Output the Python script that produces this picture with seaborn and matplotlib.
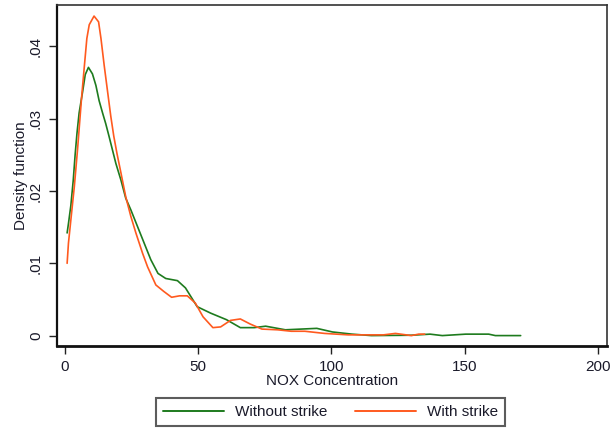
import numpy as np
import pandas as pd
import matplotlib
matplotlib.use("Agg")
import matplotlib.pyplot as plt
import seaborn as sns
from matplotlib.lines import Line2D

# Without strike density curve
x_without = [0.8, 1.3, 2.2, 3.1, 3.8, 4.5, 5.3, 6.6, 7.6, 8.8, 10.3, 11.6, 12.8, 14.1,
             15.3, 16.5, 17.8, 19.1, 21.0, 22.8, 24.7, 27.2, 29.7, 32.2, 34.9, 37.8,
             42.2, 45.2, 49.6, 54.7, 60.6, 65.8, 71.0, 75.3, 82.7, 88.6, 94.5, 100.4,
             107.7, 115.0, 130.0, 137.0, 141.6, 150.4, 159.0, 161.5, 171.0]
y_without = [0.0142, 0.0155, 0.0180, 0.0215, 0.0250, 0.0280, 0.0308, 0.0337, 0.0361,
             0.0371, 0.0362, 0.0346, 0.0325, 0.0308, 0.0293, 0.0276, 0.0257, 0.0238,
             0.0215, 0.0190, 0.0174, 0.0151, 0.0128, 0.0105, 0.0086, 0.0079, 0.0076,
             0.0066, 0.0040, 0.0031, 0.0022, 0.0011, 0.0011, 0.0013, 0.0008, 0.0009,
             0.0010, 0.0005, 0.0002, 0.0000, 0.00005, 0.0002, 0.0000, 0.0002, 0.0002,
             0.0000, 0.0000]

# With strike density curve
x_with = [0.8, 1.3, 2.2, 3.5, 4.7, 6.2, 7.2, 8.2, 9.1, 10.9, 12.6, 13.5, 14.7, 16.0,
          17.2, 18.3, 19.5, 21.0, 22.8, 24.7, 26.6, 29.1, 31.0, 34.1, 37.1, 40.0, 43.0,
          45.9, 48.9, 51.8, 55.5, 58.4, 62.1, 65.8, 69.5, 73.9, 79.8, 84.9, 90.0, 97.4,
          106.3, 119.5, 124.0, 130.0, 132.7, 135.0]
y_with = [0.0100, 0.0128, 0.0160, 0.0206, 0.0257, 0.0328, 0.0370, 0.0411, 0.0430,
          0.0442, 0.0434, 0.0411, 0.0374, 0.0337, 0.0303, 0.0276, 0.0252, 0.0225,
          0.0192, 0.0165, 0.0142, 0.0114, 0.0095, 0.0070, 0.0061, 0.0053, 0.0055,
          0.0055, 0.0045, 0.0026, 0.0011, 0.0012, 0.0021, 0.0023, 0.0016, 0.0009,
          0.0008, 0.0006, 0.0006, 0.0003, 0.0001, 0.0001, 0.0003, 0.0000, 0.0002, 0.0002]

series_names = ["Without strike", "With strike"]
x_ticks = [0, 50, 100, 150, 200]
y_ticks = [0, 0.01, 0.02, 0.03, 0.04]
y_tick_labels = ["0", ".01", ".02", ".03", ".04"]

df = pd.concat([
    pd.DataFrame({"x": x_without, "y": y_without, "series": series_names[0]}),
    pd.DataFrame({"x": x_with, "y": y_with, "series": series_names[1]}),
], ignore_index=True)

sns.set_theme(style="white")
plt.rcParams["font.family"] = ["Liberation Sans", "DejaVu Sans"]
text_color = "#1a1a2a"

fig = plt.figure(figsize=(6.13, 4.32), dpi=100)
ax = fig.add_axes([57 / 613, 1 - 346 / 432, (607 - 57) / 613, (346 - 4.7) / 432])

palette = {"Without strike": "#1e7b1e", "With strike": "#ff5a1f"}
sns.lineplot(data=df, x="x", y="y", hue="series", palette=palette, ax=ax,
             linewidth=1.2, sort=True, estimator=None, legend=False)

ax.set_xlim(-3.0, 203.4)
ax.set_ylim(-0.00144, 0.04577)
ax.set_xticks(x_ticks)
ax.set_xticklabels([str(t) for t in x_ticks])
ax.set_yticks(y_ticks)
ax.set_yticklabels(y_tick_labels, rotation=90, va="center")
ax.tick_params(axis="both", which="major", direction="out", length=6, width=1.0,
               color="#222222", labelsize=11, labelcolor=text_color, left=True, bottom=True)
ax.tick_params(axis="x", pad=4)
ax.tick_params(axis="y", pad=4)

for side, sp in ax.spines.items():
    sp.set_visible(True)
    sp.set_color("#333333")
    sp.set_linewidth(1.2)
ax.spines["bottom"].set_linewidth(2.0)
ax.spines["bottom"].set_color("#111111")
ax.spines["left"].set_linewidth(1.6)
ax.spines["left"].set_color("#111111")

ax.set_xlabel("NOX Concentration", fontsize=11, color=text_color, labelpad=0)
ax.set_ylabel("Density function", fontsize=11, color=text_color, labelpad=1)
ax.grid(False)

handles = [Line2D([], [], color=palette[n], linewidth=1.4) for n in series_names]
leg = fig.legend(handles, series_names, loc="center", ncol=2,
                 bbox_to_anchor=(330.5 / 613, 1 - 412 / 432),
                 frameon=True, fancybox=False, fontsize=11, handlelength=4.0,
                 handletextpad=0.7, columnspacing=1.8, borderpad=0.45,
                 labelcolor=text_color)
leg.get_frame().set_edgecolor("#333333")
leg.get_frame().set_linewidth(1.5)

fig.savefig("out.png", dpi=100)
